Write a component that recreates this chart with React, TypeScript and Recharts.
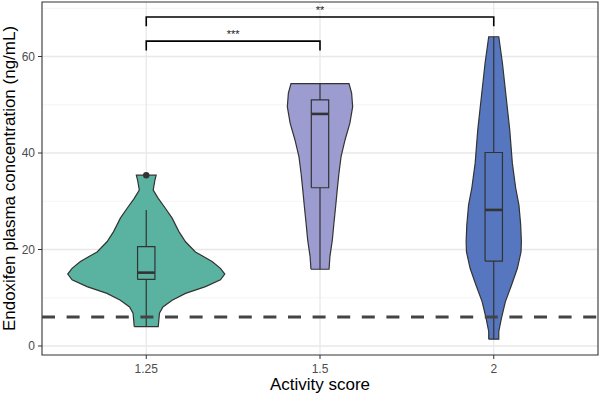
import React from "react";
import { ScatterChart, Scatter, XAxis, YAxis, CartesianGrid, ReferenceArea } from "recharts";

const categories = ["1.25", "1.5", "2"];
const fills = ["#59b3a0", "#9d9cd1", "#5677bf"];

// violin outlines: concentration (ng/mL) and half width (category units)
const levels125 = [4.0, 6.8, 8.1, 9.5, 10.9, 12.3, 13.7, 14.9, 16.1, 17.5, 19.5, 21.6, 23.7, 26.5, 28.5, 30.6, 32.3, 34.4, 35.4];
const widths125 = [0.069, 0.076, 0.096, 0.149, 0.226, 0.341, 0.427, 0.452, 0.427, 0.379, 0.283, 0.226, 0.188, 0.149, 0.111, 0.069, 0.04, 0.05, 0.057];
const levels15 = [15.9, 18.5, 22.0, 25.4, 28.9, 32.3, 35.8, 39.2, 42.7, 46.2, 49.6, 52.4, 54.4];
const widths15 = [0.052, 0.057, 0.071, 0.08, 0.09, 0.099, 0.109, 0.121, 0.144, 0.172, 0.188, 0.182, 0.167];
const levels2 = [1.4, 3.0, 5.7, 9.2, 12.6, 16.1, 19.5, 21.6, 25.1, 29.2, 32.8, 37.9, 44.8, 51.7, 58.6, 64.1];
const widths2 = [0.029, 0.029, 0.044, 0.067, 0.102, 0.136, 0.157, 0.159, 0.155, 0.145, 0.126, 0.107, 0.092, 0.071, 0.05, 0.029];

// boxplot stats per group
const whiskerLow = [4.0, 15.9, 1.4];
const lowerQuartile = [13.8, 32.8, 17.6];
const medians = [15.2, 48.1, 28.2];
const upperQuartile = [20.6, 51.0, 40.1];
const whiskerHigh = [28.2, 54.4, 64.1];
const outliers = [{ group: 1, value: 35.4 }];

const comparisons = [
  { from: 1, to: 2, y: 63.2, label: "***" },
  { from: 1, to: 3, y: 68.2, label: "**" },
];
const threshold = 6;

const X_DOMAIN = [0.4, 3.6];
const Y_DOMAIN = [-1.87, 71.3];
const BOX_HALF = 0.05;
const TIP = 1.95;
const INK = "#333333";

function violinOutline(center: number, levels: number[], widths: number[]) {
  const left = levels.map((y, i) => ({ x: center - widths[i], y }));
  const right = levels.map((y, i) => ({ x: center + widths[i], y })).reverse();
  return [...left, ...right, left[0]];
}

function boxOutline(g: number) {
  const lo = lowerQuartile[g - 1];
  const hi = upperQuartile[g - 1];
  return [
    { x: g - BOX_HALF, y: lo },
    { x: g - BOX_HALF, y: hi },
    { x: g + BOX_HALF, y: hi },
    { x: g + BOX_HALF, y: lo },
    { x: g - BOX_HALF, y: lo },
  ];
}

const noDot = () => <g />;

const starLabel = (props: any) => (
  <text x={props.cx} y={props.cy - 3} textAnchor="middle" fontSize={11} fill="#222">
    {props.payload.label}
  </text>
);

const outlierDot = (props: any) => <circle cx={props.cx} cy={props.cy} r={3.2} fill={INK} />;

export default function App() {
  const violins = [
    [levels125, widths125],
    [levels15, widths15],
    [levels2, widths2],
  ];
  const groups = [1, 2, 3];

  return (
    <div
      style={{
        position: "absolute",
        left: 0,
        top: 0,
        width: 600,
        height: 395,
        background: "#fff",
        fontFamily: '"Liberation Sans", Arial, sans-serif',
      }}
    >
      <ScatterChart width={600} height={395} margin={{ top: 2, right: 2, bottom: 0, left: 0 }}>
        <CartesianGrid horizontalValues={[10, 30, 50, 70]} vertical={false} stroke="#f1f1f1" strokeWidth={0.8} />
        <CartesianGrid horizontalValues={[0, 20, 40, 60]} verticalValues={[1, 2, 3]} stroke="#e8e8e8" strokeWidth={1.3} />
        <XAxis
          type="number"
          dataKey="x"
          domain={X_DOMAIN}
          allowDataOverflow
          ticks={[1, 2, 3]}
          tickFormatter={(v) => categories[v - 1]}
          height={40}
          axisLine={false}
          tickSize={4}
          tickMargin={5}
          tickLine={{ stroke: INK }}
          tick={{ fill: "#4d4d4d", fontSize: 12 }}
          label={{ value: "Activity score", position: "insideBottom", offset: 5, fill: "#000", fontSize: 17 }}
        />
        <YAxis
          type="number"
          dataKey="y"
          domain={Y_DOMAIN}
          allowDataOverflow
          ticks={[0, 20, 40, 60]}
          width={42}
          axisLine={false}
          tickSize={4}
          tickMargin={3}
          tickLine={{ stroke: INK }}
          tick={{ fill: "#4d4d4d", fontSize: 12 }}
          label={{
            value: "Endoxifen plasma concentration (ng/mL)",
            angle: -90,
            position: "insideLeft",
            offset: 9,
            fill: "#000",
            fontSize: 17,
            style: { textAnchor: "middle" },
          }}
        />

        {violins.map(([lv, w], i) => (
          <Scatter
            key={"violin" + i}
            data={violinOutline(i + 1, lv, w)}
            shape={noDot}
            line={{ stroke: INK, strokeWidth: 1.2, fill: fills[i] }}
            isAnimationActive={false}
          />
        ))}

        {groups.map((g) => (
          <Scatter
            key={"whisker" + g}
            data={[
              { x: g, y: whiskerLow[g - 1] },
              { x: g, y: whiskerHigh[g - 1] },
            ]}
            shape={noDot}
            line={{ stroke: INK, strokeWidth: 1.2 }}
            isAnimationActive={false}
          />
        ))}

        {groups.map((g) => (
          <Scatter
            key={"box" + g}
            data={boxOutline(g)}
            shape={noDot}
            line={{ stroke: INK, strokeWidth: 1.2, fill: fills[g - 1] }}
            isAnimationActive={false}
          />
        ))}

        {groups.map((g) => (
          <Scatter
            key={"median" + g}
            data={[
              { x: g - BOX_HALF, y: medians[g - 1] },
              { x: g + BOX_HALF, y: medians[g - 1] },
            ]}
            shape={noDot}
            line={{ stroke: INK, strokeWidth: 2.6 }}
            isAnimationActive={false}
          />
        ))}

        <Scatter
          data={outliers.map((o) => ({ x: o.group, y: o.value }))}
          shape={outlierDot}
          isAnimationActive={false}
        />

        <Scatter
          data={[
            { x: X_DOMAIN[0], y: threshold },
            { x: X_DOMAIN[1], y: threshold },
          ]}
          shape={noDot}
          line={{ stroke: "#444", strokeWidth: 3, strokeDasharray: "13 11.6" }}
          isAnimationActive={false}
        />

        {comparisons.map((c, i) => (
          <Scatter
            key={"bracket" + i}
            data={[
              { x: c.from, y: c.y - TIP },
              { x: c.from, y: c.y },
              { x: c.to, y: c.y },
              { x: c.to, y: c.y - TIP },
            ]}
            shape={noDot}
            line={{ stroke: "#000", strokeWidth: 1.6 }}
            isAnimationActive={false}
          />
        ))}

        <Scatter
          data={comparisons.map((c) => ({ x: (c.from + c.to) / 2, y: c.y, label: c.label }))}
          shape={starLabel}
          isAnimationActive={false}
        />

        <ReferenceArea
          x1={X_DOMAIN[0]}
          x2={X_DOMAIN[1]}
          y1={Y_DOMAIN[0]}
          y2={Y_DOMAIN[1]}
          fill="none"
          stroke={INK}
          strokeWidth={1.1}
          ifOverflow="visible"
        />
      </ScatterChart>
    </div>
  );
}
